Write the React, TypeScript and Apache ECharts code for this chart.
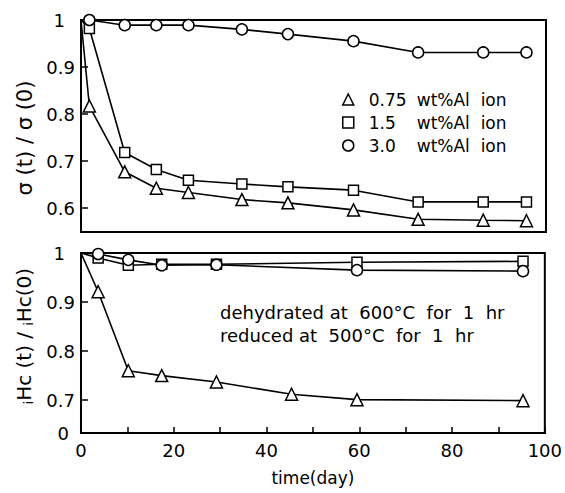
import React, { useEffect, useRef } from "react";
import * as echarts from "echarts";

// ---- data ----
const topDays = [0, 1.8, 9.4, 16.2, 23.1, 34.6, 44.5, 58.6, 72.5, 86.5, 95.8];
const topTriangle = [1, 0.817, 0.677, 0.642, 0.633, 0.618, 0.611, 0.596, 0.576, 0.574, 0.573];
const topSquare = [1, 0.982, 0.718, 0.682, 0.659, 0.651, 0.645, 0.638, 0.613, 0.613, 0.613];
const topCircle = [1, 1.0, 0.989, 0.989, 0.989, 0.98, 0.97, 0.955, 0.931, 0.931, 0.931];

const bottomDaysTri = [0, 3.7, 10.2, 17.4, 29.2, 45.4, 59.5, 95.3];
const bottomTriangle = [1, 0.921, 0.76, 0.75, 0.737, 0.712, 0.701, 0.699];
const bottomDaysCS = [0, 3.7, 10.2, 17.4, 29.2, 59.5, 95.3];
const bottomCircle = [1, 0.998, 0.986, 0.975, 0.976, 0.965, 0.963];
const bottomSquare = [1, 0.99, 0.975, 0.977, 0.977, 0.981, 0.983];

const seriesNames = ["0.75", "1.5", "3.0"];
const seriesSymbols = ["triangle", "rect", "circle"];
const topTickValues = [0.6, 0.7, 0.8, 0.9, 1];
const bottomTickValues = [0.633, 0.7, 0.8, 0.9, 1];
const annotationLines = ["dehydrated at  600°C  for  1  hr", "reduced at  500°C  for  1  hr"];

const FONT = "DejaVu Sans";

function pts(xs: number[], ys: number[]) {
  return xs.map((x, i) =>
    i === 0 ? { value: [x, ys[i]], symbol: "none" } : { value: [x, ys[i]] }
  );
}

function mkSeries(name: string, symbol: string, data: any[], axis: number) {
  return {
    name,
    type: "line",
    xAxisIndex: axis,
    yAxisIndex: axis,
    data,
    symbol,
    symbolSize: symbol === "triangle" ? 12 : symbol === "rect" ? 10 : 11,
    showAllSymbol: true,
    lineStyle: { color: "#000", width: 1.6 },
    itemStyle: { color: "#fff", borderColor: "#000", borderWidth: 1.5 },
    z: symbol === "circle" ? 3 : 2,
  };
}

const labelRich = {
  one: { fontSize: 18, fontFamily: FONT, color: "#000", padding: [0, 10, 0, 0] },
  zero: { fontSize: 18, fontFamily: FONT, color: "#000", padding: [0, 6, 0, 0] },
};

export default function App() {
  const ref = useRef<HTMLDivElement>(null);
  useEffect(() => {
    if (!ref.current) return;
    const chart = echarts.init(ref.current, undefined, { renderer: "svg" });
    const xBase = {
      type: "value",
      min: 0,
      max: 100,
      interval: 10,
      splitLine: { show: false },
      axisLine: { show: true, lineStyle: { color: "#000", width: 2 } },
    };
    const option: any = {
      animation: false,
      backgroundColor: "#fff",
      textStyle: { fontFamily: FONT, color: "#000" },
      grid: [
        { left: 81, right: 19, top: 20, height: 212, show: true, borderColor: "#000", borderWidth: 2, backgroundColor: "transparent" },
        { left: 81, right: 19, top: 253, height: 180, show: true, borderColor: "#000", borderWidth: 2, backgroundColor: "transparent" },
      ],
      xAxis: [
        {
          ...xBase,
          gridIndex: 0,
          axisTick: { show: false },
          axisLabel: { show: false },
        },
        {
          ...xBase,
          gridIndex: 1,
          axisTick: { show: true, inside: true, length: 6, lineStyle: { color: "#000", width: 1.5 } },
          axisLabel: {
            show: true,
            margin: 8,
            fontSize: 18,
            fontFamily: FONT,
            color: "#000",
            formatter: (v: number) => (v % 20 === 0 ? String(v) : ""),
          },
          name: "time(day)",
          nameLocation: "middle",
          nameGap: 36,
          nameTextStyle: { fontSize: 17, fontFamily: FONT, color: "#000" },
        },
      ],
      yAxis: [
        {
          type: "value",
          gridIndex: 0,
          min: 0.549,
          max: 1,
          splitLine: { show: false },
          axisLine: { show: true, lineStyle: { color: "#000", width: 2 } },
          axisTick: {
            show: true,
            inside: true,
            length: 7,
            customValues: [0.6, 0.7, 0.8, 0.9],
            lineStyle: { color: "#000", width: 1.5 },
          },
          axisLabel: {
            show: true,
            customValues: topTickValues,
            margin: 6,
            fontSize: 18,
            fontFamily: FONT,
            color: "#000",
            rich: labelRich,
            formatter: (v: number) => (v > 0.999 ? "{one|1}" : v.toFixed(1)),
          },
          name: "σ (t) / σ (0)",
          nameLocation: "middle",
          nameGap: 44,
          nameTextStyle: { fontSize: 21, fontFamily: FONT, color: "#000", padding: [0, 24, 0, 0] },
        },
        {
          type: "value",
          gridIndex: 1,
          min: 0.633,
          max: 1,
          splitLine: { show: false },
          axisLine: { show: true, lineStyle: { color: "#000", width: 2 } },
          axisTick: {
            show: true,
            inside: true,
            length: 7,
            customValues: [0.7, 0.8, 0.9],
            lineStyle: { color: "#000", width: 1.5 },
          },
          axisLabel: {
            show: true,
            customValues: bottomTickValues,
            margin: 6,
            fontSize: 18,
            fontFamily: FONT,
            color: "#000",
            rich: labelRich,
            formatter: (v: number) =>
              v > 0.999 ? "{one|1}" : v < 0.65 ? "{zero|0}" : v.toFixed(1),
          },
          name: "{s|i}Hc (t) / {s|i}Hc(0)",
          nameLocation: "middle",
          nameGap: 44,
          nameTextStyle: {
            fontSize: 20,
            fontFamily: FONT,
            color: "#000",
            padding: [0, 0, 0, 14],
            rich: {
              s: { fontSize: 12, fontFamily: FONT, color: "#000", padding: [10, 0, 0, 0] },
            },
          },
        },
      ],
      legend: {
        show: true,
        orient: "vertical",
        left: 337,
        top: 86,
        itemWidth: 11,
        itemHeight: 11,
        itemGap: 6,
        selectedMode: false,
        data: seriesNames.map((n, i) => ({
          name: n,
          icon: seriesSymbols[i],
          itemStyle: { color: "#fff", borderColor: "#000", borderWidth: 1.5 },
        })),
        formatter: (name: string) => `{s|}{a|${name}}{b|wt%Al  ion}`,
        textStyle: {
          fontFamily: FONT,
          fontSize: 17,
          color: "#000",
          rich: {
            s: { width: 10, fontSize: 17, lineHeight: 20 },
            a: { width: 48, fontSize: 17, fontFamily: FONT, color: "#000", lineHeight: 20 },
            b: { fontSize: 17, fontFamily: FONT, color: "#000", lineHeight: 20 },
          },
        },
      },
      graphic: [
        {
          type: "text",
          left: 220,
          top: 301,
          style: {
            text: annotationLines.join("\n"),
            fontSize: 18,
            fontFamily: FONT,
            fill: "#000",
            lineHeight: 23,
          },
        },
      ],
      series: [
        mkSeries("0.75", "triangle", pts(topDays, topTriangle), 0),
        mkSeries("1.5", "rect", pts(topDays, topSquare), 0),
        mkSeries("3.0", "circle", pts(topDays, topCircle), 0),
        mkSeries("b0.75", "triangle", pts(bottomDaysTri, bottomTriangle), 1),
        mkSeries("b1.5", "rect", pts(bottomDaysCS, bottomSquare), 1),
        mkSeries("b3.0", "circle", pts(bottomDaysCS, bottomCircle), 1),
      ],
    };
    chart.setOption(option);
    return () => chart.dispose();
  }, []);
  return (
    <div
      ref={ref}
      style={{ position: "absolute", left: 0, top: 0, width: 565, height: 493 }}
    />
  );
}
